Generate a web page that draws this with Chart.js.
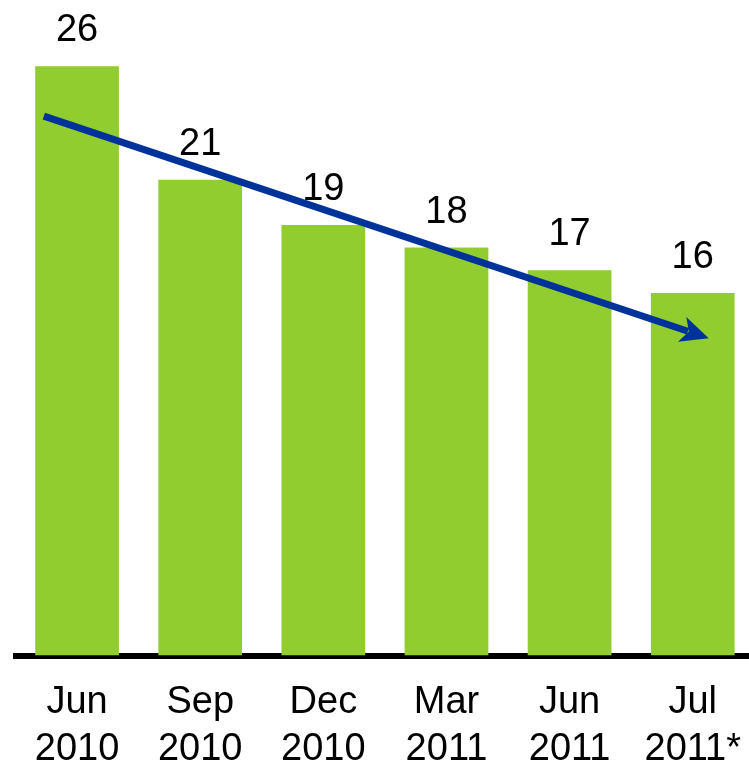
<!DOCTYPE html>
<html>
<head>
<meta charset="utf-8">
<script src="https://cdn.jsdelivr.net/npm/chart.js@4"></script>
<style>
  html, body { margin: 0; padding: 0; background: #fff; overflow: hidden; }
  .chart-container { position: relative; width: 749px; height: 764px; overflow: hidden; }
  canvas { display: block; }
</style>
</head>
<body>
<div class="chart-container"><canvas id="myChart" width="764" height="764"></canvas></div>
<script>
// data
const categories = [["Jun", "2010"], ["Sep", "2010"], ["Dec", "2010"], ["Mar", "2011"], ["Jun", "2011"], ["Jul", "2011*"]];
const values = [26, 21, 19, 18, 17, 16];
// trend arrow ends: [category index, value]
const trend_from = [-0.27, 23.8];
const trend_to = [5.13, 14.0];

const bar_color = '#92cd2f';
const arrow_color = '#003399';
const font_family = '"Liberation Sans", Arial, sans-serif';

// value labels over the bars + the trend arrow
const overlay = {
    id: 'overlay',
    afterDatasetsDraw(chart) {
        const ctx = chart.ctx;
        const x = chart.scales.x;
        const y = chart.scales.y;
        const meta = chart.getDatasetMeta(0);

        ctx.save();
        ctx.font = '38px ' + font_family;
        ctx.fillStyle = '#000';
        ctx.textAlign = 'center';
        ctx.textBaseline = 'alphabetic';
        meta.data.forEach((bar, i) => {
            ctx.fillText(String(values[i]), bar.x, bar.y - 25);
        });

        let step = x.getPixelForValue(1) - x.getPixelForValue(0);
        let x0 = x.getPixelForValue(0) + trend_from[0] * step;
        let y0 = y.getPixelForValue(trend_from[1]);
        let x1 = x.getPixelForValue(0) + trend_to[0] * step;
        let y1 = y.getPixelForValue(trend_to[1]);
        let ang = Math.atan2(y1 - y0, x1 - x0);
        let head_len = 28, head_w = 13;

        ctx.strokeStyle = arrow_color;
        ctx.lineWidth = 7;
        ctx.beginPath();
        ctx.moveTo(x0, y0);
        ctx.lineTo(x1 - Math.cos(ang) * (head_len - 6), y1 - Math.sin(ang) * (head_len - 6));
        ctx.stroke();

        ctx.fillStyle = arrow_color;
        ctx.beginPath();
        ctx.moveTo(x1, y1);
        ctx.lineTo(x1 - Math.cos(ang) * head_len + Math.sin(ang) * head_w, y1 - Math.sin(ang) * head_len - Math.cos(ang) * head_w);
        ctx.lineTo(x1 - Math.cos(ang) * (head_len - 7), y1 - Math.sin(ang) * (head_len - 7));
        ctx.lineTo(x1 - Math.cos(ang) * head_len - Math.sin(ang) * head_w, y1 - Math.sin(ang) * head_len + Math.cos(ang) * head_w);
        ctx.closePath();
        ctx.fill();
        ctx.restore();
    }
};

var ctx = document.getElementById('myChart').getContext('2d');
var chart = new Chart(ctx, {
    type: 'bar',
    data: {
        labels: categories,
        datasets: [{
            data: values,
            backgroundColor: bar_color,
            borderWidth: 0,
            barPercentage: 0.68,
            categoryPercentage: 1
        }]
    },
    options: {
        responsive: false,
        animation: false,
        layout: { padding: { left: 15.5, right: 0, top: 21, bottom: 0 } },
        plugins: { legend: { display: false }, tooltip: { enabled: false } },
        scales: {
            x: {
                grid: { display: false, drawTicks: false },
                border: { display: true, color: '#000', width: 6 },
                ticks: {
                    color: '#000',
                    padding: 23,
                    maxRotation: 0,
                    autoSkip: false,
                    font: { family: font_family, size: 38, lineHeight: 1.24 }
                },
                afterFit(scale) { scale.height = 108.5; }
            },
            y: {
                display: false,
                min: 0,
                max: 28
            }
        }
    },
    plugins: [overlay]
});
</script>
</body>
</html>
